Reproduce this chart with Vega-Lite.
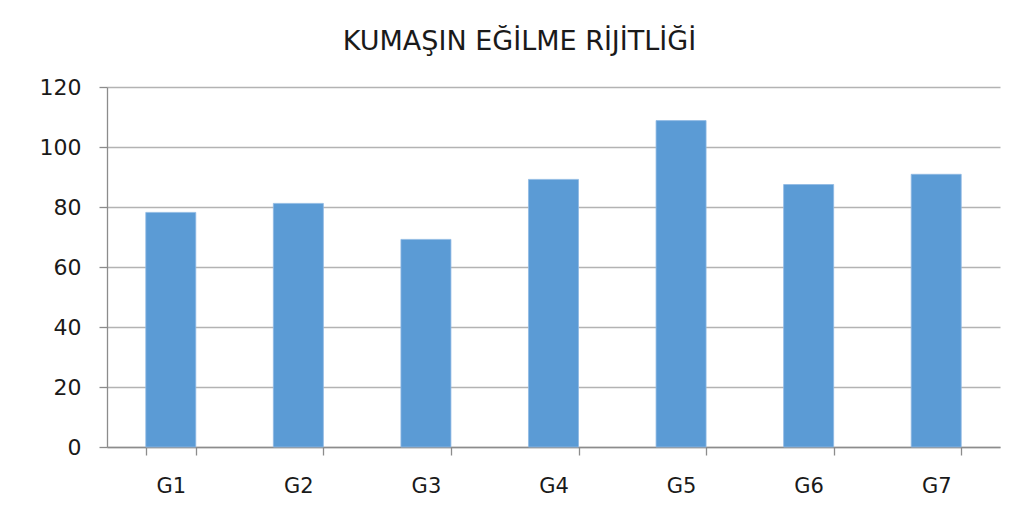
{
  "$schema": "https://vega.github.io/schema/vega-lite/v6.json",
  "autosize": "none",
  "width": 893,
  "height": 360,
  "padding": {"left": 107, "top": 87, "right": 28, "bottom": 77},
  "background": "white",
  "title": {
    "text": "KUMAŞIN EĞİLME RİJİTLİĞİ",
    "font": "DejaVu Sans",
    "fontSize": 27,
    "fontWeight": "normal",
    "color": "#1a1a1a",
    "anchor": "middle",
    "frame": "bounds",
    "offset": 20
  },
  "data": {
    "values": [
      {"grup": "G1", "deger": 78.2},
      {"grup": "G2", "deger": 81.2},
      {"grup": "G3", "deger": 69.2},
      {"grup": "G4", "deger": 89.2},
      {"grup": "G5", "deger": 108.8},
      {"grup": "G6", "deger": 87.5},
      {"grup": "G7", "deger": 90.9}
    ]
  },
  "mark": {"type": "bar", "color": "#5b9bd5", "stroke": "#8fb9e3", "strokeWidth": 0.8},
  "encoding": {
    "x": {
      "field": "grup",
      "type": "nominal",
      "sort": null,
      "title": null,
      "scale": {"paddingInner": 0.608, "paddingOuter": 0.304},
      "axis": {
        "labelAngle": 0,
        "labelFont": "DejaVu Sans",
        "labelFontSize": 21,
        "labelColor": "#1a1a1a",
        "labelPadding": 20,
        "domainColor": "#8c8c8c",
        "domainWidth": 1.3,
        "tickColor": "#8c8c8c",
        "tickSize": 8,
        "tickWidth": 1.3,
        "tickBand": "extent",
        "grid": false
      }
    },
    "y": {
      "field": "deger",
      "type": "quantitative",
      "title": null,
      "scale": {"domain": [0, 120], "nice": false},
      "axis": {
        "values": [0, 20, 40, 60, 80, 100, 120],
        "labelFont": "DejaVu Sans",
        "labelFontSize": 22,
        "labelColor": "#1a1a1a",
        "labelPadding": 18,
        "domainColor": "#8c8c8c",
        "domainWidth": 1.3,
        "tickColor": "#8c8c8c",
        "tickSize": 8,
        "tickWidth": 1.3,
        "grid": true,
        "gridColor": "#b3b3b3",
        "gridWidth": 1.3
      }
    }
  },
  "config": {"view": {"stroke": null}}
}
